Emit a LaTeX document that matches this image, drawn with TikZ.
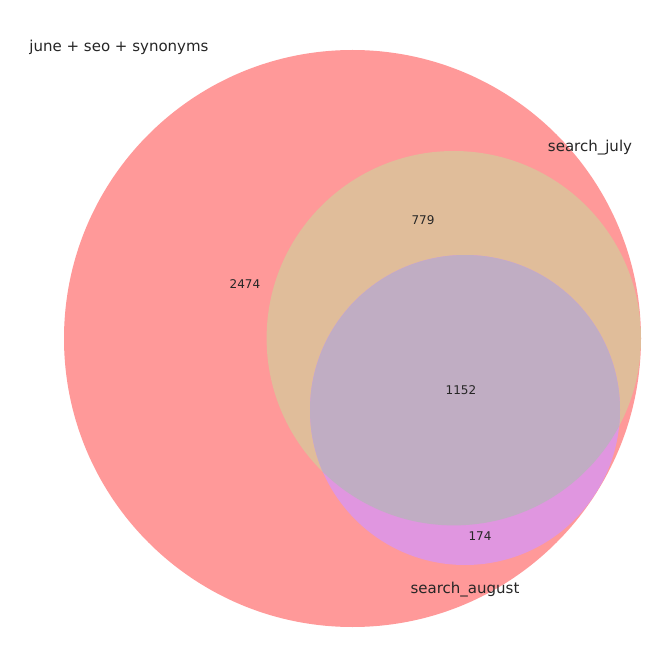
\documentclass[tikz,border=0pt]{standalone}
\usepackage{fontspec}
\setmainfont{DejaVu Sans}
\definecolor{regA}{RGB}{255,153,153}
\definecolor{regAB}{RGB}{224,189,154}
\definecolor{regAC}{RGB}{224,150,224}
\definecolor{regABC}{RGB}{192,173,195}
\tikzset{
  setlabel/.style={font=\fontsize{15}{17}\selectfont, text=black!85, inner sep=0pt},
  numlabel/.style={font=\fontsize{12}{14}\selectfont, text=black!85, inner sep=0pt},
}
\begin{document}
\begin{tikzpicture}[x=1pt,y=-1pt]
\useasboundingbox (0,0) rectangle (662,658);
\fill[white] (0,0) rectangle (662,658);
% june + seo + synonyms
\fill[regA] (352.5,338.5) circle[radius=288.5];
\begin{scope}
  \clip (352.5,338.5) circle[radius=288.5];
  \fill[regAB] (453.8,338.2) circle[radius=187.2];
  \fill[regAC] (465,410) circle[radius=155];
  \clip (453.8,338.2) circle[radius=187.2];
  \fill[regABC] (465,410) circle[radius=155];
\end{scope}
\node[setlabel] (lA) at (119,47) {june + seo + synonyms};
\node[setlabel] (lB) at (590,148) {search\_july};
\node[setlabel] (lC) at (465,590) {search\_august};
\node[numlabel] (nA) at (245,284) {2474};
\node[numlabel] (nAB) at (423,220) {779};
\node[numlabel] (nABC) at (461,390) {1152};
\node[numlabel] (nAC) at (480,536) {174};
\end{tikzpicture}
\end{document}
